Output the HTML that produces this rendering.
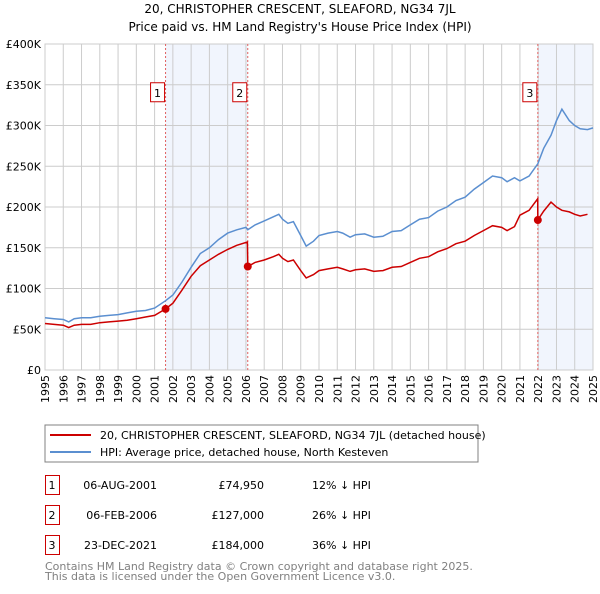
<!DOCTYPE html>
<html><head><meta charset="utf-8"><style>
body{margin:0;background:#fff;width:600px;height:590px;overflow:hidden;font-family:"DejaVu Sans","Liberation Sans",sans-serif}
svg text{font-family:"DejaVu Sans","Liberation Sans",sans-serif}
</style></head><body>
<svg id="c" width="600" height="590" xmlns="http://www.w3.org/2000/svg">
<text x="300" y="13" text-anchor="middle" font-size="12">20, CHRISTOPHER CRESCENT, SLEAFORD, NG34 7JL</text>
<text x="300" y="31" text-anchor="middle" font-size="12">Price paid vs. HM Land Registry's House Price Index (HPI)</text>
<g id="plot"></g>
<rect x="45" y="425" width="433" height="37" fill="none" stroke="#808080"/>
<line x1="50" y1="435" x2="91" y2="435" stroke="#cc0000" stroke-width="2"/>
<text x="100" y="439" font-size="11">20, CHRISTOPHER CRESCENT, SLEAFORD, NG34 7JL (detached house)</text>
<line x1="50" y1="452" x2="91" y2="452" stroke="#5b8fd0" stroke-width="2"/>
<text x="100" y="456" font-size="11">HPI: Average price, detached house, North Kesteven</text>
<g id="tbl" font-size="11"></g>
<text x="45" y="570" font-size="11" fill="#808080">Contains HM Land Registry data © Crown copyright and database right 2025.</text>
<text x="45" y="580" font-size="11" fill="#808080">This data is licensed under the Open Government Licence v3.0.</text>
</svg>
<script>
const hpiYears=[1995,1995.5,1996,1996.3,1996.6,1997,1997.5,1998,1998.5,1999,1999.5,2000,2000.5,2001,2001.6,2002,2002.5,2003,2003.5,2004,2004.5,2005,2005.5,2006,2006.1,2006.5,2007,2007.5,2007.8,2008,2008.3,2008.6,2009,2009.3,2009.7,2010,2010.5,2011,2011.3,2011.7,2012,2012.5,2013,2013.5,2014,2014.5,2015,2015.5,2016,2016.5,2017,2017.5,2018,2018.5,2019,2019.5,2020,2020.3,2020.7,2021,2021.5,2021.98,2022.3,2022.7,2023,2023.3,2023.7,2024,2024.3,2024.7,2025];
const hpiValues=[64,63,62,59,63,64,64,66,67,68,70,72,73,76,85,92,108,126,143,150,160,168,172,175,172,178,183,188,191,185,180,182,165,152,158,165,168,170,168,163,166,167,163,164,170,171,178,185,187,195,200,208,212,222,230,238,236,231,236,232,238,253,272,288,306,320,306,300,296,295,297];
const propYears=[1995,1995.5,1996,1996.3,1996.6,1997,1997.5,1998,1998.5,1999,1999.5,2000,2000.5,2001,2001.6,2002,2002.5,2003,2003.5,2004,2004.5,2005,2005.5,2006.08,2006.1,2006.5,2007,2007.5,2007.8,2008,2008.3,2008.6,2009,2009.3,2009.7,2010,2010.5,2011,2011.3,2011.7,2012,2012.5,2013,2013.5,2014,2014.5,2015,2015.5,2016,2016.5,2017,2017.5,2018,2018.5,2019,2019.5,2020,2020.3,2020.7,2021,2021.5,2021.97,2021.98,2022.3,2022.7,2023,2023.3,2023.7,2024,2024.3,2024.7,2025];
const propValues=[57,56,55,52,55,56,56,58,59,60,61,63,65,67,74.95,82,98,115,128,135,142,148,153,157,127,132,135,139,142,137,133,135,122,113,117,122,124,126,124,121,123,124,121,122,126,127,132,137,139,145,149,155,158,165,171,177,175,171,176,190,196,210,184,195,206,200,196,194,191,189,191];
const saleYears=[2001.6,2006.1,2021.98];
const saleValues=[74.95,127,184];
const saleLabels=["1","2","3"];
const saleDates=["06-AUG-2001","06-FEB-2006","23-DEC-2021"];
const salePrices=["£74,950","£127,000","£184,000"];
const saleDiffs=["12% ↓ HPI","26% ↓ HPI","36% ↓ HPI"];
const yTicks=[0,50,100,150,200,250,300,350,400];
const yTickLabels=["£0","£50K","£100K","£150K","£200K","£250K","£300K","£350K","£400K"];
const xTicks=[1995,1996,1997,1998,1999,2000,2001,2002,2003,2004,2005,2006,2007,2008,2009,2010,2011,2012,2013,2014,2015,2016,2017,2018,2019,2020,2021,2022,2023,2024,2025];

const X0=45,X1=593,Y0=370,Y1=44;
const xs=v=>X0+(v-1995)/30*(X1-X0);
const ys=v=>Y0-v/400*(Y0-Y1);
const NS="http://www.w3.org/2000/svg";
const g=document.getElementById('plot');
function mk(tag,attrs,parent){const e=document.createElementNS(NS,tag);for(const k in attrs)e.setAttribute(k,attrs[k]);(parent||g).appendChild(e);return e;}

let e=mk('rect',{x:xs(saleYears[0]),y:Y1,width:xs(saleYears[1])-xs(saleYears[0]),height:Y0-Y1,fill:'#eef3fc',opacity:0.8});


e=mk('rect',{x:xs(saleYears[2]),y:Y1,width:X1-xs(saleYears[2]),height:Y0-Y1,fill:'#eef3fc',opacity:0.8});



xTicks.forEach(t=>{
 const l=mk('line',{x1:xs(t),x2:xs(t),y1:Y1,y2:Y0,stroke:'#cccccc'});
 
 
 const tx=mk('text',{x:0,y:0,'font-size':11,'text-anchor':'end',transform:`translate(${xs(t)+4},${Y0+5}) rotate(-90)`});
 tx.textContent=t;
 
 
});
yTicks.forEach((t,i)=>{
 const l=mk('line',{x1:X0,x2:X1,y1:ys(t),y2:ys(t),stroke:'#cccccc'});
 
 
 const tx=mk('text',{x:X0-4,y:ys(t)+4,'font-size':11,'text-anchor':'end'});
 tx.textContent=yTickLabels[i];
 
 
});
e=mk('rect',{x:X0,y:Y1,width:X1-X0,height:Y0-Y1,fill:'none',stroke:'#cccccc'});



saleYears.forEach((s,i)=>{
 const l=mk('line',{x1:xs(s),x2:xs(s),y1:Y1,y2:Y0,stroke:'#e06060','stroke-dasharray':'2,2'});
 
 
});

const hp=hpiYears.map((y,i)=>`${xs(y).toFixed(1)},${ys(hpiValues[i]).toFixed(1)}`).join(' ');
e=mk('polyline',{points:hp,fill:'none',stroke:'#5b8fd0','stroke-width':1.5});


const pp=propYears.map((y,i)=>`${xs(y).toFixed(1)},${ys(propValues[i]).toFixed(1)}`).join(' ');
e=mk('polyline',{points:pp,fill:'none',stroke:'#cc0000','stroke-width':1.5});



saleYears.forEach((s,i)=>{
 const c=mk('circle',{cx:xs(s),cy:ys(saleValues[i]),r:4,fill:'#cc0000'});
 
 
 const bx=xs(s)-15, by=ys(350)-2;
 const r=mk('rect',{x:bx,y:by,width:14,height:19,fill:'#fff',stroke:'#cc0000'});
 
 
 const t=mk('text',{x:bx+7,y:by+14,'font-size':11,'text-anchor':'middle'});
 t.textContent=saleLabels[i];
 
 
});

const tb=document.getElementById('tbl');
saleLabels.forEach((lab,i)=>{
 const y0=475+i*30;
 const r=mk('rect',{x:45.5,y:y0+0.5,width:14,height:19,fill:'none',stroke:'#cc0000'},tb);
 
 
 const cells=[[52,lab,'middle','table-row-number'],[157,saleDates[i],'end','table-date'],[264,salePrices[i],'end','table-price'],[312,saleDiffs[i],'start','table-hpi-diff']];
 cells.forEach(c=>{
  const t=mk('text',{x:c[0],y:y0+14,'text-anchor':c[2]},tb);
  t.textContent=c[1];
  
  
 });
});
</script>
</body></html>
